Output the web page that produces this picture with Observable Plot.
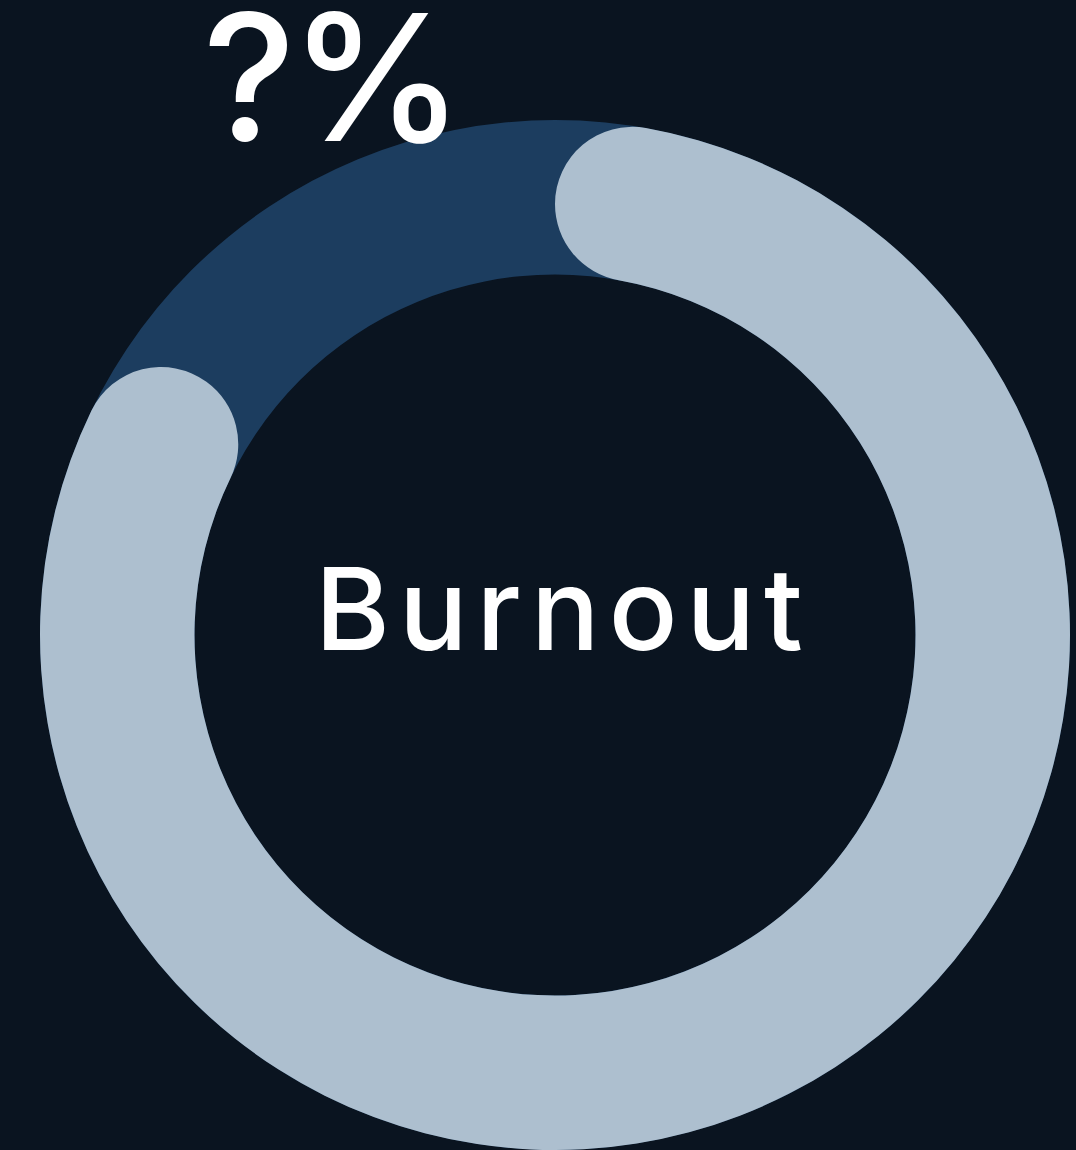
<!DOCTYPE html>
<html>
<head>
<meta charset="utf-8">
<script src="https://cdn.jsdelivr.net/npm/d3@7"></script>
<script src="https://cdn.jsdelivr.net/npm/@observablehq/plot@0.6"></script>
<style>
  html, body { margin: 0; padding: 0; background: #0a1420; }
  #chart { width: 1076px; height: 1150px; }
  svg { display: block; }
  .cat-label text { letter-spacing: 9px; }
  .val-label text { letter-spacing: -6px; }
</style>
</head>
<body>
<div id="chart"></div>
<script>
// ---- data ----
const categories = ["Burnout"];
const values = [85];          // share of the ring that is filled (percent)
const valueLabels = ["?%"];   // label shown for the value

// ---- styles ----
const bg = "#0a1420";
const trackColor = "#1c3d5f";
const arcColor = "#adbfcf";
const innerRatio = 0.7;        // inner radius as a share of the outer radius

const data = categories.map((c, i) => ({category: c, value: values[i], label: valueLabels[i]}));

function ringMark(index, scales) {
  const {x, y} = scales;
  const cx = x(0), cy = y(0);
  const R = x(1) - x(0);
  const r = R * innerRatio;
  const g = d3.create("svg:g").attr("transform", `translate(${cx},${cy})`);
  const track = d3.arc().innerRadius(r).outerRadius(R);
  g.append("path")
    .attr("d", track({startAngle: 0, endAngle: 2 * Math.PI}))
    .attr("fill", trackColor);
  const arc = d3.arc().innerRadius(r).outerRadius(R).cornerRadius((R - r) / 2);
  for (const d of data) {
    g.append("path")
      .attr("d", arc({startAngle: 0, endAngle: d.value / 100 * 2 * Math.PI}))
      .attr("fill", arcColor);
  }
  return g.node();
}

const chart = Plot.plot({
  width: 1076,
  height: 1150,
  marginLeft: 40,
  marginRight: 6,
  marginTop: 120,
  marginBottom: 0,
  style: {background: bg, overflow: "visible"},
  x: {domain: [-1, 1], axis: null},
  y: {domain: [-1, 1], axis: null},
  marks: [
    ringMark,
    Plot.text(data, {
      x: 0, y: 0, text: "category", className: "cat-label",
      fill: "white", fontSize: 114, fontFamily: "Inter", fontWeight: 500,
      textAnchor: "middle", lineAnchor: "middle", dx: 8, dy: -22
    }),
    Plot.text(data, {
      x: 0, y: 0, text: "label", className: "val-label",
      fill: "white", fontSize: 176, fontFamily: "Inter", fontWeight: 500,
      textAnchor: "middle", lineAnchor: "middle", dx: -225, dy: -551
    })
  ]
});
document.getElementById("chart").appendChild(chart);
</script>
</body>
</html>
